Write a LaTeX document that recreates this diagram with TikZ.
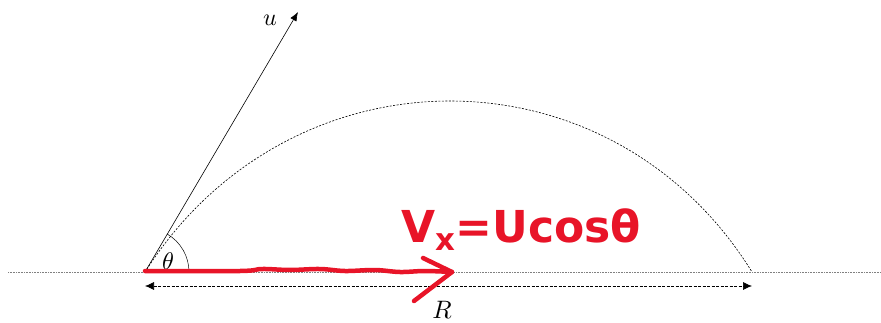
\documentclass[tikz,border=0pt]{standalone}
\usepackage{fontspec}
\newfontfamily\handfont{DejaVu Sans Bold}
\usetikzlibrary{arrows.meta}
\definecolor{inkred}{RGB}{232,20,40}
\tikzset{
  ground/.style={gray, densely dotted, line width=0.6pt},
  traj/.style={black, dash pattern=on 2pt off 1.5pt, line width=0.6pt},
  vec/.style={black, line width=0.6pt, -{Latex[length=9pt,width=7pt]}},
  span/.style={black, dash pattern=on 3pt off 1.5pt, line width=0.6pt, {Latex[length=9pt,width=8pt]}-{Latex[length=9pt,width=8pt]}},
  redink/.style={inkred, line width=4.5pt, line cap=round, line join=round},
  lbl/.style={inner sep=0pt, scale=2.4}
}
\begin{document}
\begin{tikzpicture}[x=1pt,y=1pt]
\useasboundingbox (0,0) rectangle (881,322);
% key points (y = 322 - pixel row)
\coordinate (O) at (145,50);
\coordinate (L) at (8,50);
\coordinate (Rg) at (881,50);
\coordinate (U) at (298,310);
\coordinate (E) at (752,50);
\coordinate (A) at (145,36);
\coordinate (B) at (752,36);
\coordinate (T) at (452,50);
% ground
\draw[ground] (L) -- (Rg);
% trajectory
\draw[traj] (O) .. controls (290,278) and (611,278) .. (E);
% velocity vector
\draw[vec] (O) -- (U);
\node[lbl] (ulab) at (270,302) {$u$};
% angle
\draw[black, line width=0.5pt] ([shift={(0:44)}]O) arc[start angle=0, end angle=59.5, radius=44];
\node[lbl] (thlab) at (168,61) {$\theta$};
% range
\draw[span] (A) -- (B);
\node[lbl, scale=1.05] (rlab) at (442,12) {$R$};
% red annotation
\draw[redink] plot[smooth, tension=0.6] coordinates {(145,51) (240,51) (262,53) (290,52) (320,53) (345,51) (375,52) (400,50) (425,51) (T)};
\draw[redink] (423,64) -- (T) -- (414,21);
\node[inkred, inner sep=0pt, anchor=base west] (vx) at (401,80) {\handfont\fontsize{44}{44}\selectfont V\textsubscript{x}=Ucosθ};
\end{tikzpicture}
\end{document}
